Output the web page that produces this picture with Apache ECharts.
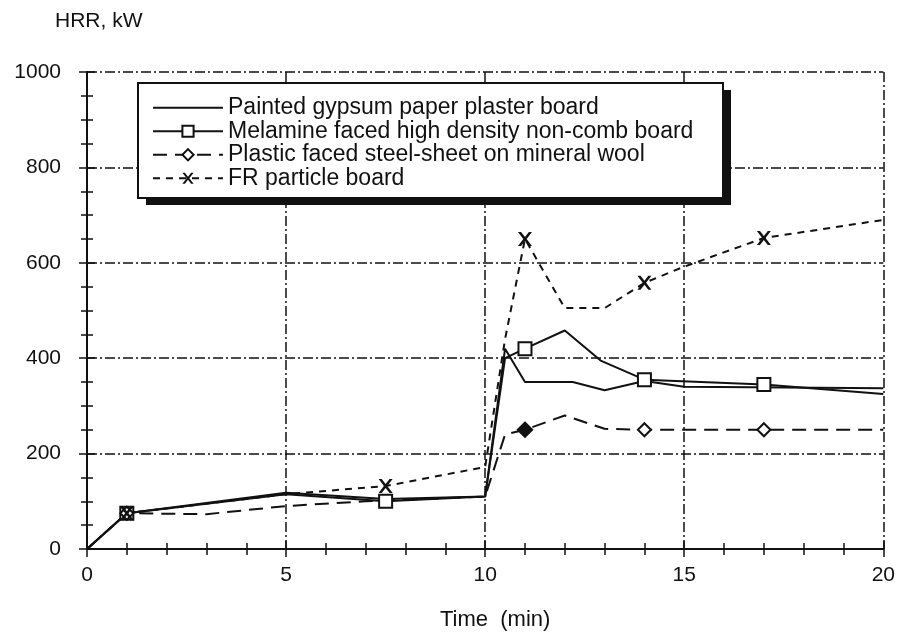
<!DOCTYPE html>
<html>
<head>
<meta charset="utf-8">
<script src="https://cdn.jsdelivr.net/npm/echarts@6/dist/echarts.min.js"></script>
<style>
  html, body { margin: 0; padding: 0; background: #fff; }
  #chart { width: 898px; height: 636px; }
</style>
</head>
<body>
<div id="chart"></div>
<script>
// time (min), HRR (kW)
const seriesNames = [
  'Painted gypsum paper plaster board',
  'Melamine faced high density non-comb board',
  'Plastic faced steel-sheet on mineral wool',
  'FR particle board'
];
const painted = [[0, 0], [1, 75], [5, 118], [7.5, 105], [10, 110], [10.5, 420], [11, 350], [12.2, 350], [13, 333], [14, 352], [15, 340], [20, 337]];
const melamine = [[0, 0], [1, 75], [5, 115], [7.5, 100], [10, 110], [10.5, 400], [11, 420], [12, 458], [12.9, 395], [14, 355], [17, 345], [20, 325]];
const plastic = [[0, 0], [1, 75], [3, 73], [5, 90], [7, 100], [10, 110], [10.5, 240], [11, 250], [12, 280], [13, 252], [14, 250], [17, 250], [20, 250]];
const frBoard = [[0, 0], [1, 75], [5, 115], [7.5, 132], [10, 172], [10.5, 440], [11, 650], [12, 505], [13, 505], [14, 558], [15, 592], [17, 652], [20, 690]];
// times where a marker is drawn
const melamineMarks = [1, 7.5, 11, 14, 17];
const plasticMarks = [1, 11, 14, 17];
const frMarks = [1, 7.5, 11, 14, 17];

const xTicks = { min: 0, max: 20, interval: 5 };
const yTicks = { min: 0, max: 1000, interval: 200 };

const FONT = 'Liberation Sans, Arial, sans-serif';
const INK = '#111';
const crossPath = 'path://M0,0 L2.2,0 L5,3.6 L7.8,0 L10,0 L6.2,5 L10,10 L7.8,10 L5,6.4 L2.2,10 L0,10 L3.8,5 Z';

function withMarks(points, marks) {
  return points.map(p => marks.indexOf(p[0]) >= 0 ? { value: p } : { value: p, symbol: 'none' });
}

const chart = echarts.init(document.getElementById('chart'));

const gridLine = { show: true, lineStyle: { color: INK, width: 1.5, type: [10, 3, 2, 3] } };
const frameLine = { show: true, lineStyle: { color: INK, width: 2 } };
const tick = { inside: true, length: 8, lineStyle: { color: INK, width: 1.5 } };
const minorTick = (n) => ({ show: true, splitNumber: n, length: 6, lineStyle: { color: INK, width: 1.5 } });

const plasticData = withMarks(plastic, plasticMarks);
// the diamond at 11 min is drawn solid in the original
plasticData.forEach(d => {
  if (d.value[0] === 11) d.itemStyle = { color: INK, borderColor: INK, borderWidth: 3 };
  if (d.value[0] === 11) d.symbol = 'diamond';
});

const option = {
  animation: false,
  backgroundColor: '#fff',
  grid: { left: 87, right: 14, top: 72, bottom: 83 },
  graphic: [
    // legend frame with its hard drop shadow
    { type: 'rect', z: 10, shape: { x: 146, y: 90, width: 585, height: 115 }, style: { fill: INK } },
    { type: 'rect', z: 11, shape: { x: 138, y: 83, width: 585, height: 115 }, style: { fill: '#fff', stroke: INK, lineWidth: 2 } },
    // y axis title
    { type: 'text', z: 11, left: 55, top: 11, style: { text: 'HRR, kW', fontFamily: FONT, fontSize: 21, fill: INK } }
  ],
  legend: {
    orient: 'vertical',
    left: 152,
    top: 96,
    z: 20,
    padding: 0,
    itemGap: 0,
    itemWidth: 70,
    itemHeight: 14,
    textStyle: { fontFamily: FONT, fontSize: 23, color: INK, lineHeight: 23.5 },
    data: [
      { name: seriesNames[0], itemStyle: { opacity: 0 } },
      seriesNames[1], seriesNames[2], seriesNames[3]
    ]
  },
  xAxis: [{
    type: 'value',
    min: xTicks.min, max: xTicks.max, interval: xTicks.interval,
    name: 'Time  (min)',
    nameLocation: 'middle',
    nameGap: 60,
    nameTextStyle: { fontFamily: FONT, fontSize: 22, color: INK, padding: [0, 0, 0, 20] },
    axisLine: frameLine,
    axisTick: tick,
    minorTick: minorTick(5),
    axisLabel: { fontFamily: FONT, fontSize: 21, color: INK, margin: 16 },
    splitLine: gridLine
  }, {
    type: 'value', position: 'top',
    min: xTicks.min, max: xTicks.max, interval: xTicks.interval,
    axisLine: frameLine,
    axisTick: tick,
    minorTick: minorTick(5),
    axisLabel: { show: false },
    splitLine: { show: false }
  }],
  yAxis: [{
    type: 'value',
    min: yTicks.min, max: yTicks.max, interval: yTicks.interval,
    axisLine: frameLine,
    axisTick: tick,
    minorTick: minorTick(4),
    axisLabel: { fontFamily: FONT, fontSize: 21, color: INK, margin: 26, formatter: v => String(v) },
    splitLine: gridLine
  }, {
    type: 'value', position: 'right',
    min: yTicks.min, max: yTicks.max, interval: yTicks.interval,
    axisLine: frameLine,
    axisTick: tick,
    minorTick: minorTick(4),
    axisLabel: { show: false },
    splitLine: { show: false }
  }],
  series: [{
    name: seriesNames[0],
    type: 'line',
    symbol: 'none',
    lineStyle: { color: INK, width: 2 },
    itemStyle: { color: INK },
    data: painted
  }, {
    name: seriesNames[1],
    type: 'line',
    symbol: 'emptyRect',
    symbolSize: 13,
    lineStyle: { color: INK, width: 2 },
    itemStyle: { color: INK, borderColor: INK, borderWidth: 2 },
    data: withMarks(melamine, melamineMarks)
  }, {
    name: seriesNames[2],
    type: 'line',
    symbol: 'emptyDiamond',
    symbolSize: 13,
    lineStyle: { color: INK, width: 2, type: [14, 8] },
    itemStyle: { color: INK, borderColor: INK, borderWidth: 3 },
    data: plasticData
  }, {
    name: seriesNames[3],
    type: 'line',
    symbol: crossPath,
    symbolSize: 14,
    lineStyle: { color: INK, width: 2, type: [7, 6] },
    itemStyle: { color: INK },
    data: withMarks(frBoard, frMarks)
  }]
};

chart.setOption(option);
</script>
</body>
</html>
